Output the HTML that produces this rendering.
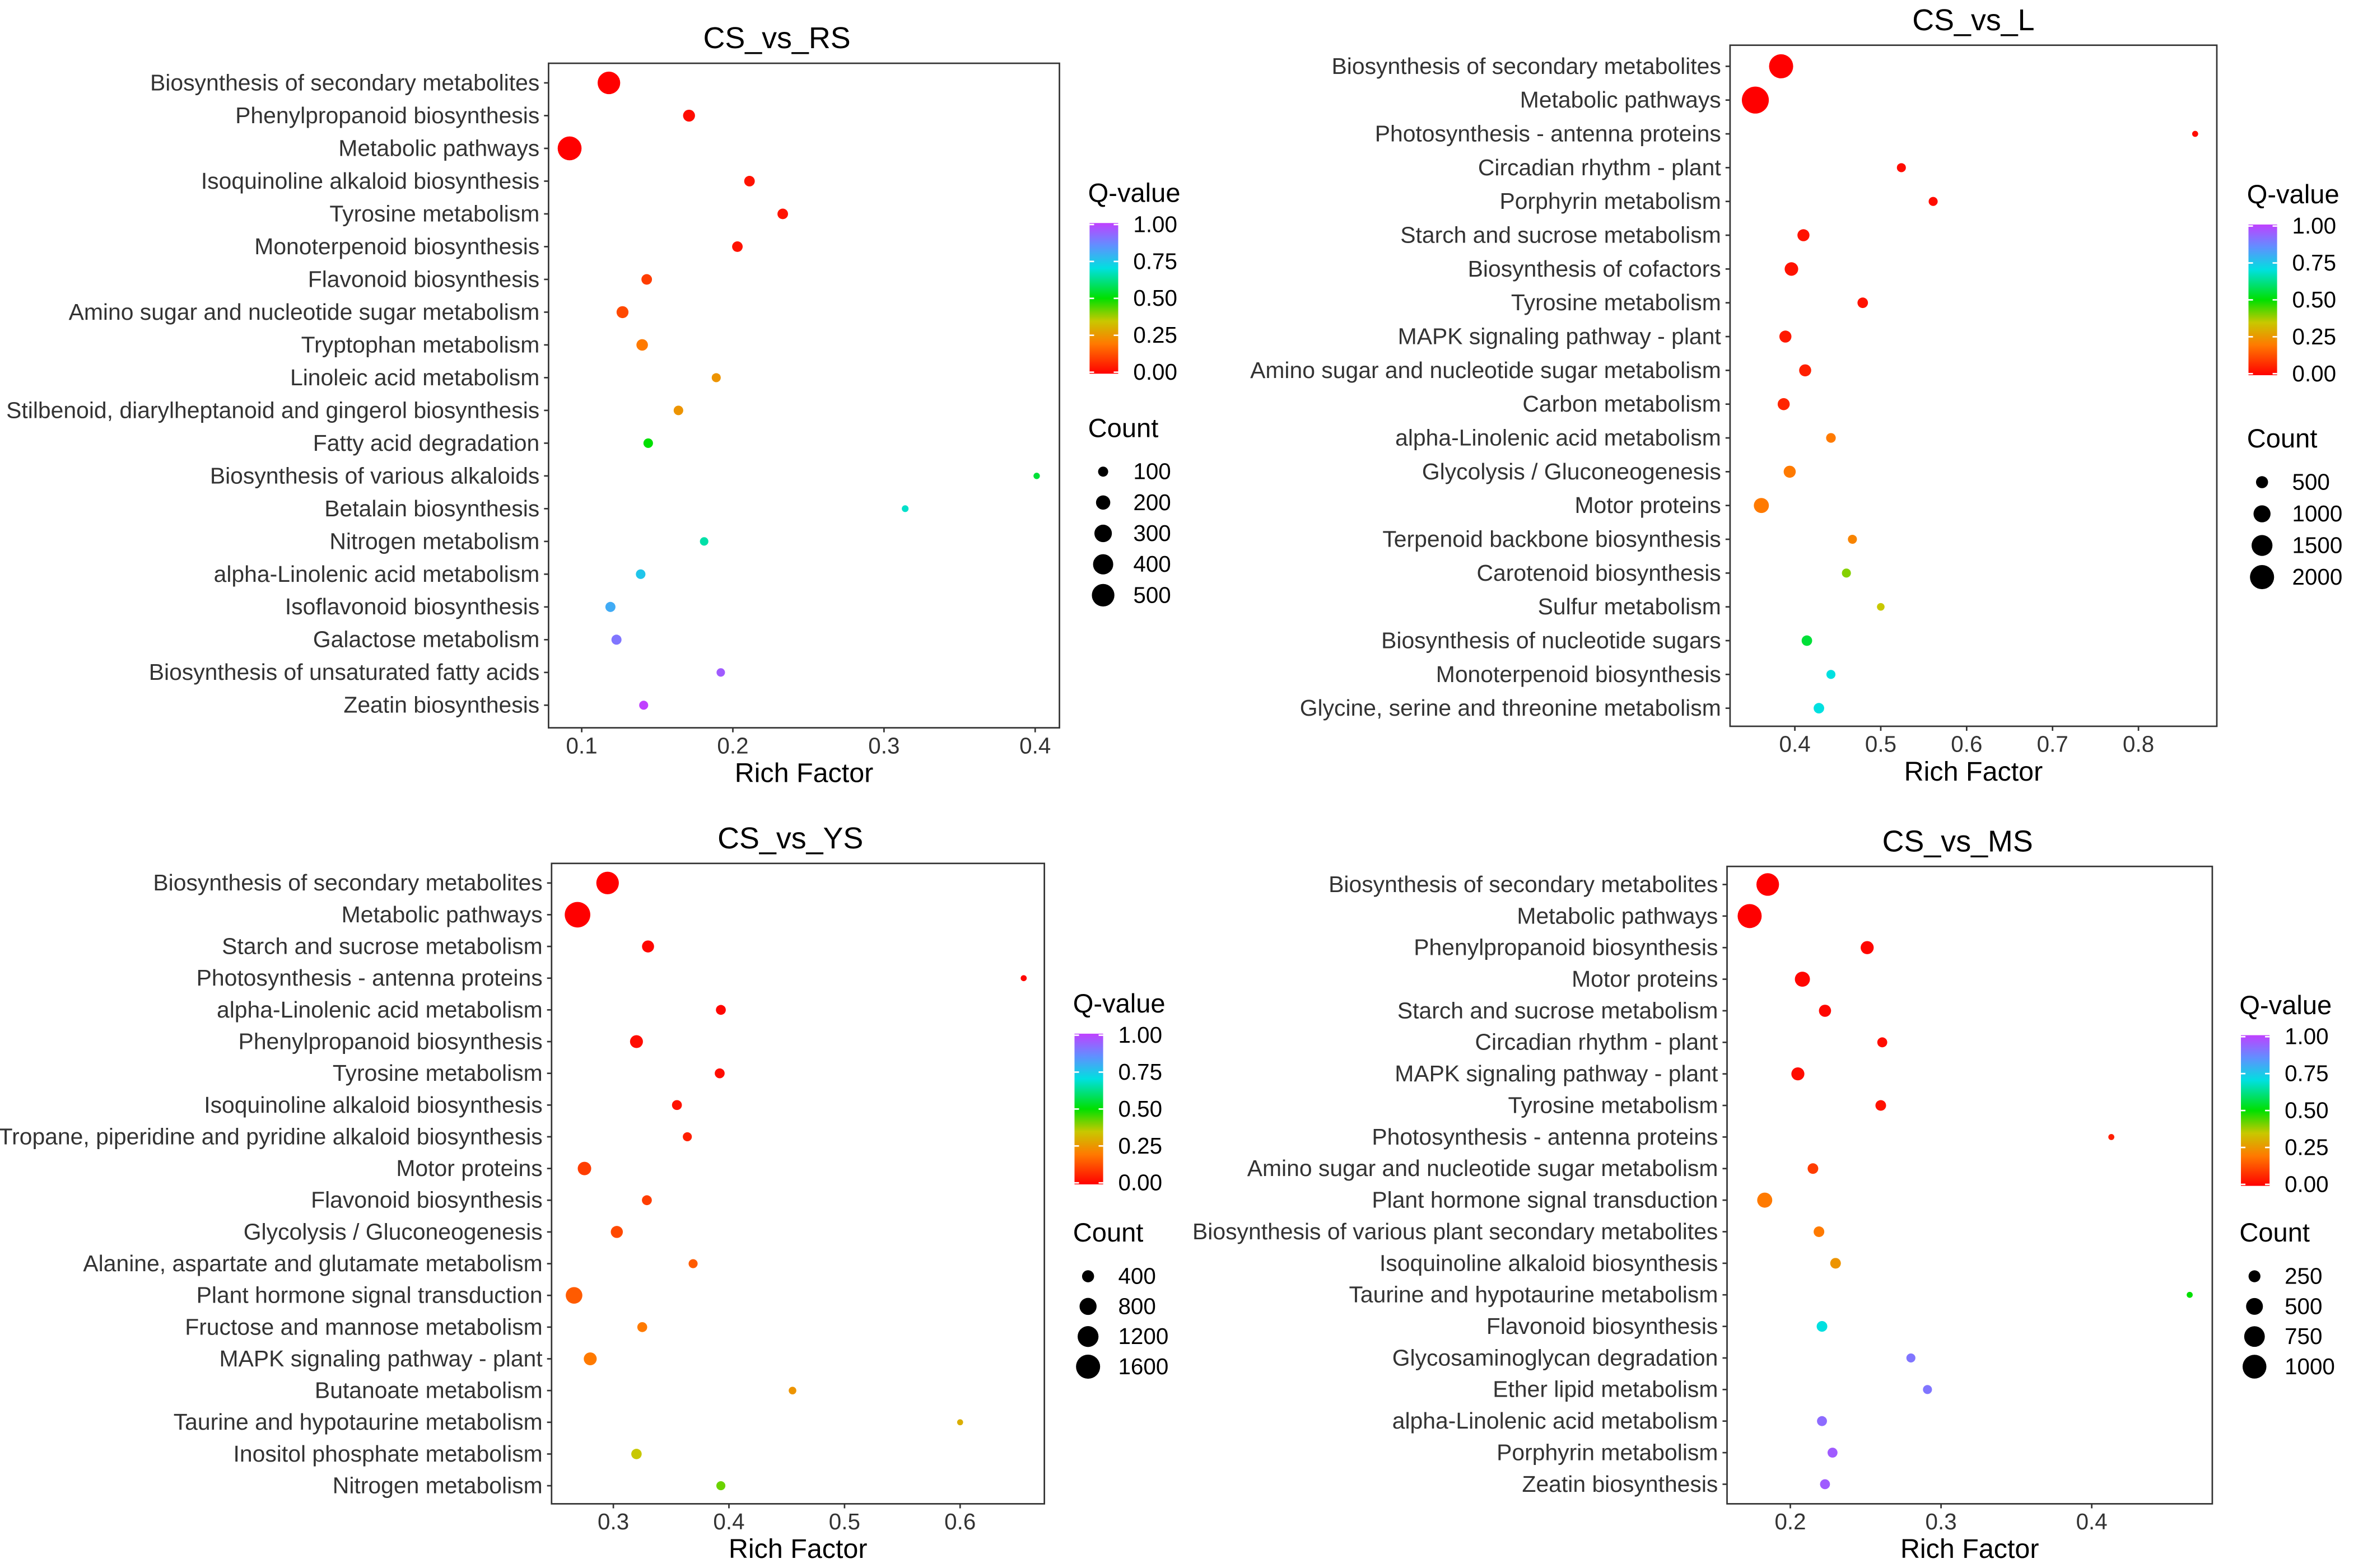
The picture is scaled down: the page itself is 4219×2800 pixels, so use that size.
<!DOCTYPE html>
<html><head><meta charset="utf-8">
<style>
html,body{margin:0;padding:0;background:#fff;}
svg{display:block;font-family:"Liberation Sans",sans-serif;}
</style></head>
<body>
<svg id="root" width="4219" height="2800" viewBox="0 0 1568 1040.6" preserveAspectRatio="none" xmlns="http://www.w3.org/2000/svg">
<defs>
<linearGradient id="qgrad" x1="0" y1="1" x2="0" y2="0">
<stop offset="0" stop-color="#ff0000"/>
<stop offset="0.2" stop-color="#ff7a00"/>
<stop offset="0.35" stop-color="#c8c800"/>
<stop offset="0.5" stop-color="#00e000"/>
<stop offset="0.7" stop-color="#00e0e0"/>
<stop offset="0.85" stop-color="#6090ff"/>
<stop offset="1" stop-color="#c040ff"/>
</linearGradient>
</defs>
</svg>
<script>
// ---- Panel CS_vs_RS ----
const rsCats = ["Biosynthesis of secondary metabolites","Phenylpropanoid biosynthesis","Metabolic pathways","Isoquinoline alkaloid biosynthesis","Tyrosine metabolism","Monoterpenoid biosynthesis","Flavonoid biosynthesis","Amino sugar and nucleotide sugar metabolism","Tryptophan metabolism","Linoleic acid metabolism","Stilbenoid, diarylheptanoid and gingerol biosynthesis","Fatty acid degradation","Biosynthesis of various alkaloids","Betalain biosynthesis","Nitrogen metabolism","alpha-Linolenic acid metabolism","Isoflavonoid biosynthesis","Galactose metabolism","Biosynthesis of unsaturated fatty acids","Zeatin biosynthesis"];
const rsRich = [0.118,0.171,0.092,0.211,0.233,0.203,0.143,0.127,0.140,0.189,0.164,0.144,0.401,0.314,0.181,0.139,0.119,0.123,0.192,0.141];
const rsCount = [500,140,560,110,110,110,110,140,130,80,90,90,40,45,70,90,100,100,70,80];
const rsQ = [0.0,0.02,0.0,0.03,0.03,0.03,0.1,0.12,0.2,0.25,0.25,0.5,0.55,0.68,0.65,0.75,0.8,0.9,0.95,1.0];
const rsXTicks = [0.1,0.2,0.3,0.4];
const rsXTickLabels = ["0.1","0.2","0.3","0.4"];
const rsCountLegend = [100,200,300,400,500];

// ---- Panel CS_vs_L ----
const lCats = ["Biosynthesis of secondary metabolites","Metabolic pathways","Photosynthesis - antenna proteins","Circadian rhythm - plant","Porphyrin metabolism","Starch and sucrose metabolism","Biosynthesis of cofactors","Tyrosine metabolism","MAPK signaling pathway - plant","Amino sugar and nucleotide sugar metabolism","Carbon metabolism","alpha-Linolenic acid metabolism","Glycolysis / Gluconeogenesis","Motor proteins","Terpenoid backbone biosynthesis","Carotenoid biosynthesis","Sulfur metabolism","Biosynthesis of nucleotide sugars","Monoterpenoid biosynthesis","Glycine, serine and threonine metabolism"];
const lRich = [0.384,0.354,0.866,0.524,0.561,0.410,0.396,0.479,0.389,0.412,0.387,0.442,0.394,0.361,0.467,0.460,0.500,0.414,0.442,0.428];
const lCount = [2000,2500,125,280,280,500,630,380,500,500,500,320,500,780,280,280,200,380,280,380];
const lQ = [0.0,0.0,0.02,0.02,0.02,0.03,0.03,0.03,0.04,0.05,0.06,0.2,0.2,0.2,0.22,0.4,0.35,0.55,0.7,0.7];
const lXTicks = [0.4,0.5,0.6,0.7,0.8];
const lXTickLabels = ["0.4","0.5","0.6","0.7","0.8"];
const lCountLegend = [500,1000,1500,2000];

// ---- Panel CS_vs_YS ----
const ysCats = ["Biosynthesis of secondary metabolites","Metabolic pathways","Starch and sucrose metabolism","Photosynthesis - antenna proteins","alpha-Linolenic acid metabolism","Phenylpropanoid biosynthesis","Tyrosine metabolism","Isoquinoline alkaloid biosynthesis","Tropane, piperidine and pyridine alkaloid biosynthesis","Motor proteins","Flavonoid biosynthesis","Glycolysis / Gluconeogenesis","Alanine, aspartate and glutamate metabolism","Plant hormone signal transduction","Fructose and mannose metabolism","MAPK signaling pathway - plant","Butanoate metabolism","Taurine and hypotaurine metabolism","Inositol phosphate metabolism","Nitrogen metabolism"];
const ysRich = [0.295,0.269,0.330,0.655,0.393,0.320,0.392,0.355,0.364,0.275,0.329,0.303,0.369,0.266,0.325,0.280,0.455,0.600,0.320,0.393];
const ysCount = [1400,1800,400,100,270,460,270,270,225,500,270,400,225,760,270,460,160,100,300,225];
const ysQ = [0.0,0.0,0.01,0.01,0.01,0.02,0.02,0.03,0.05,0.1,0.1,0.12,0.15,0.15,0.2,0.2,0.25,0.3,0.35,0.42];
const ysXTicks = [0.3,0.4,0.5,0.6];
const ysXTickLabels = ["0.3","0.4","0.5","0.6"];
const ysCountLegend = [400,800,1200,1600];

// ---- Panel CS_vs_MS ----
const msCats = ["Biosynthesis of secondary metabolites","Metabolic pathways","Phenylpropanoid biosynthesis","Motor proteins","Starch and sucrose metabolism","Circadian rhythm - plant","MAPK signaling pathway - plant","Tyrosine metabolism","Photosynthesis - antenna proteins","Amino sugar and nucleotide sugar metabolism","Plant hormone signal transduction","Biosynthesis of various plant secondary metabolites","Isoquinoline alkaloid biosynthesis","Taurine and hypotaurine metabolism","Flavonoid biosynthesis","Glycosaminoglycan degradation","Ether lipid metabolism","alpha-Linolenic acid metabolism","Porphyrin metabolism","Zeatin biosynthesis"];
const msRich = [0.185,0.173,0.251,0.208,0.223,0.261,0.205,0.260,0.413,0.215,0.183,0.219,0.230,0.465,0.221,0.280,0.291,0.221,0.228,0.223];
const msCount = [900,1020,300,400,260,175,300,200,64,200,400,200,200,64,200,144,144,175,175,175];
const msQ = [0.0,0.0,0.01,0.01,0.01,0.02,0.02,0.03,0.05,0.1,0.2,0.2,0.25,0.5,0.7,0.9,0.9,0.92,0.95,0.95];
const msXTicks = [0.2,0.3,0.4];
const msXTickLabels = ["0.2","0.3","0.4"];
const msCountLegend = [250,500,750,1000];

const NS = "http://www.w3.org/2000/svg";
const root = document.getElementById('root');
const stops = [[0,[255,0,0]],[0.2,[255,122,0]],[0.35,[200,200,0]],[0.5,[0,224,0]],[0.7,[0,224,224]],[0.85,[96,144,255]],[1,[192,64,255]]];
function qColor(q){
  for(let i=1;i<stops.length;i++){
    if(q<=stops[i][0]){
      const a=stops[i-1],b=stops[i],t=(q-a[0])/(b[0]-a[0]);
      const c=a[1].map((v,j)=>Math.round(v+(b[1][j]-v)*t));
      return `rgb(${c[0]},${c[1]},${c[2]})`;
    }
  }
  return "rgb(192,64,255)";
}
function mk(tag, attrs, parent, text){
  const e=document.createElementNS(NS,tag);
  for(const k in attrs) e.setAttribute(k,attrs[k]);
  if(text!==undefined) e.textContent=text;
  parent.appendChild(e);
  return e;
}
function panel(p){
  const g=mk('g',{},root);
  
  
  const xs=v=>p.x0px+(v-p.x0val)*p.pxPerUnit;
  const ys=i=>p.rowTop+i*(p.rowBot-p.rowTop)/(p.cats.length-1);
  const rad=c=>p.k*Math.sqrt(c);
  const t=mk('text',{x:(p.L+p.R)/2+p.titleDx,y:p.T-10,'text-anchor':'middle','font-size':20,fill:'#000'},g,p.title);
  
  
  const box=mk('rect',{x:p.L,y:p.T,width:p.R-p.L,height:p.B-p.T,fill:'#fff',stroke:'#333','stroke-width':1},g);
  
  
  p.cats.forEach((c,i)=>{
    const y=ys(i);
    mk('line',{x1:p.L-3,x2:p.L,y1:y,y2:y,stroke:'#333','stroke-width':1},g);
    const lb=mk('text',{x:p.L-6,y:y+5,'text-anchor':'end','font-size':15.2,fill:'#333'},g,c);
    
    
  });
  p.xticks.forEach((v,i)=>{
    const x=xs(v);
    mk('line',{x1:x,x2:x,y1:p.B,y2:p.B+3,stroke:'#333','stroke-width':1},g);
    const lb=mk('text',{x:x,y:p.B+17,'text-anchor':'middle','font-size':15,fill:'#333'},g,p.xlabels[i]);
    
    
  });
  const at=mk('text',{x:(p.L+p.R)/2,y:p.B+36,'text-anchor':'middle','font-size':18,fill:'#000'},g,'Rich Factor');
  
  
  p.cats.forEach((c,i)=>{
    const d=mk('circle',{cx:xs(p.rich[i]),cy:ys(i),r:rad(p.count[i]),fill:qColor(p.q[i])},g);
    
    
  });
  const lx=p.legX, qt=p.legQTop;
  const qtl=mk('text',{x:lx,y:qt,'font-size':17.5,fill:'#000'},g,'Q-value');
  
  
  const bt=qt+14, bb=bt+100;
  const bar=mk('rect',{x:lx+1,y:bt,width:19,height:bb-bt,fill:'url(#qgrad)'},g);
  
  
  ["1.00","0.75","0.50","0.25","0.00"].forEach((s,i)=>{
    const y=bt+1+i*(bb-bt-2)/4;
    mk('line',{x1:lx+1,x2:lx+4,y1:y,y2:y,stroke:'#fff'},g);
    mk('line',{x1:lx+17,x2:lx+20,y1:y,y2:y,stroke:'#fff'},g);
    const tl=mk('text',{x:lx+30,y:y+5,'font-size':15,fill:'#000'},g,s);
    
    
  });
  const ct=p.legCTop;
  const ctl=mk('text',{x:lx,y:ct,'font-size':17.5,fill:'#000'},g,'Count');
  
  
  p.countLeg.forEach((v,i)=>{
    const y=ct+23+i*p.legStep;
    const d=mk('circle',{cx:lx+10,cy:y,r:rad(v),fill:'#000'},g);
    
    
    mk('text',{x:lx+30,y:y+5,'font-size':15,fill:'#000'},g,String(v));
  });
}
panel({name:'cs-vs-rs',title:'CS_vs_RS',titleDx:-18,cats:rsCats,rich:rsRich,count:rsCount,q:rsQ,xticks:rsXTicks,xlabels:rsXTickLabels,countLeg:rsCountLegend,
  L:364,R:703,T:42,B:483,x0val:0.1,x0px:386,pxPerUnit:1003,rowTop:55,rowBot:468,k:0.335,legX:722,legQTop:134,legCTop:290,legStep:20.5});
panel({name:'cs-vs-l',title:'CS_vs_L',titleDx:0,cats:lCats,rich:lRich,count:lCount,q:lQ,xticks:lXTicks,xlabels:lXTickLabels,countLeg:lCountLegend,
  L:1148,R:1471,T:30,B:482,x0val:0.4,x0px:1191,pxPerUnit:570,rowTop:44,rowBot:470,k:0.179,legX:1491,legQTop:135,legCTop:297,legStep:21});
panel({name:'cs-vs-ys',title:'CS_vs_YS',titleDx:-5,cats:ysCats,rich:ysRich,count:ysCount,q:ysQ,xticks:ysXTicks,xlabels:ysXTickLabels,countLeg:ysCountLegend,
  L:366,R:693,T:573,B:998,x0val:0.3,x0px:407,pxPerUnit:767,rowTop:586,rowBot:986,k:0.2,legX:712,legQTop:672,legCTop:824,legStep:20});
panel({name:'cs-vs-ms',title:'CS_vs_MS',titleDx:-8,cats:msCats,rich:msRich,count:msCount,q:msQ,xticks:msXTicks,xlabels:msXTickLabels,countLeg:msCountLegend,
  L:1146,R:1468,T:575,B:998,x0val:0.2,x0px:1188,pxPerUnit:1000,rowTop:587,rowBot:985,k:0.25,legX:1486,legQTop:673,legCTop:824,legStep:20});
</script>
</body></html>
